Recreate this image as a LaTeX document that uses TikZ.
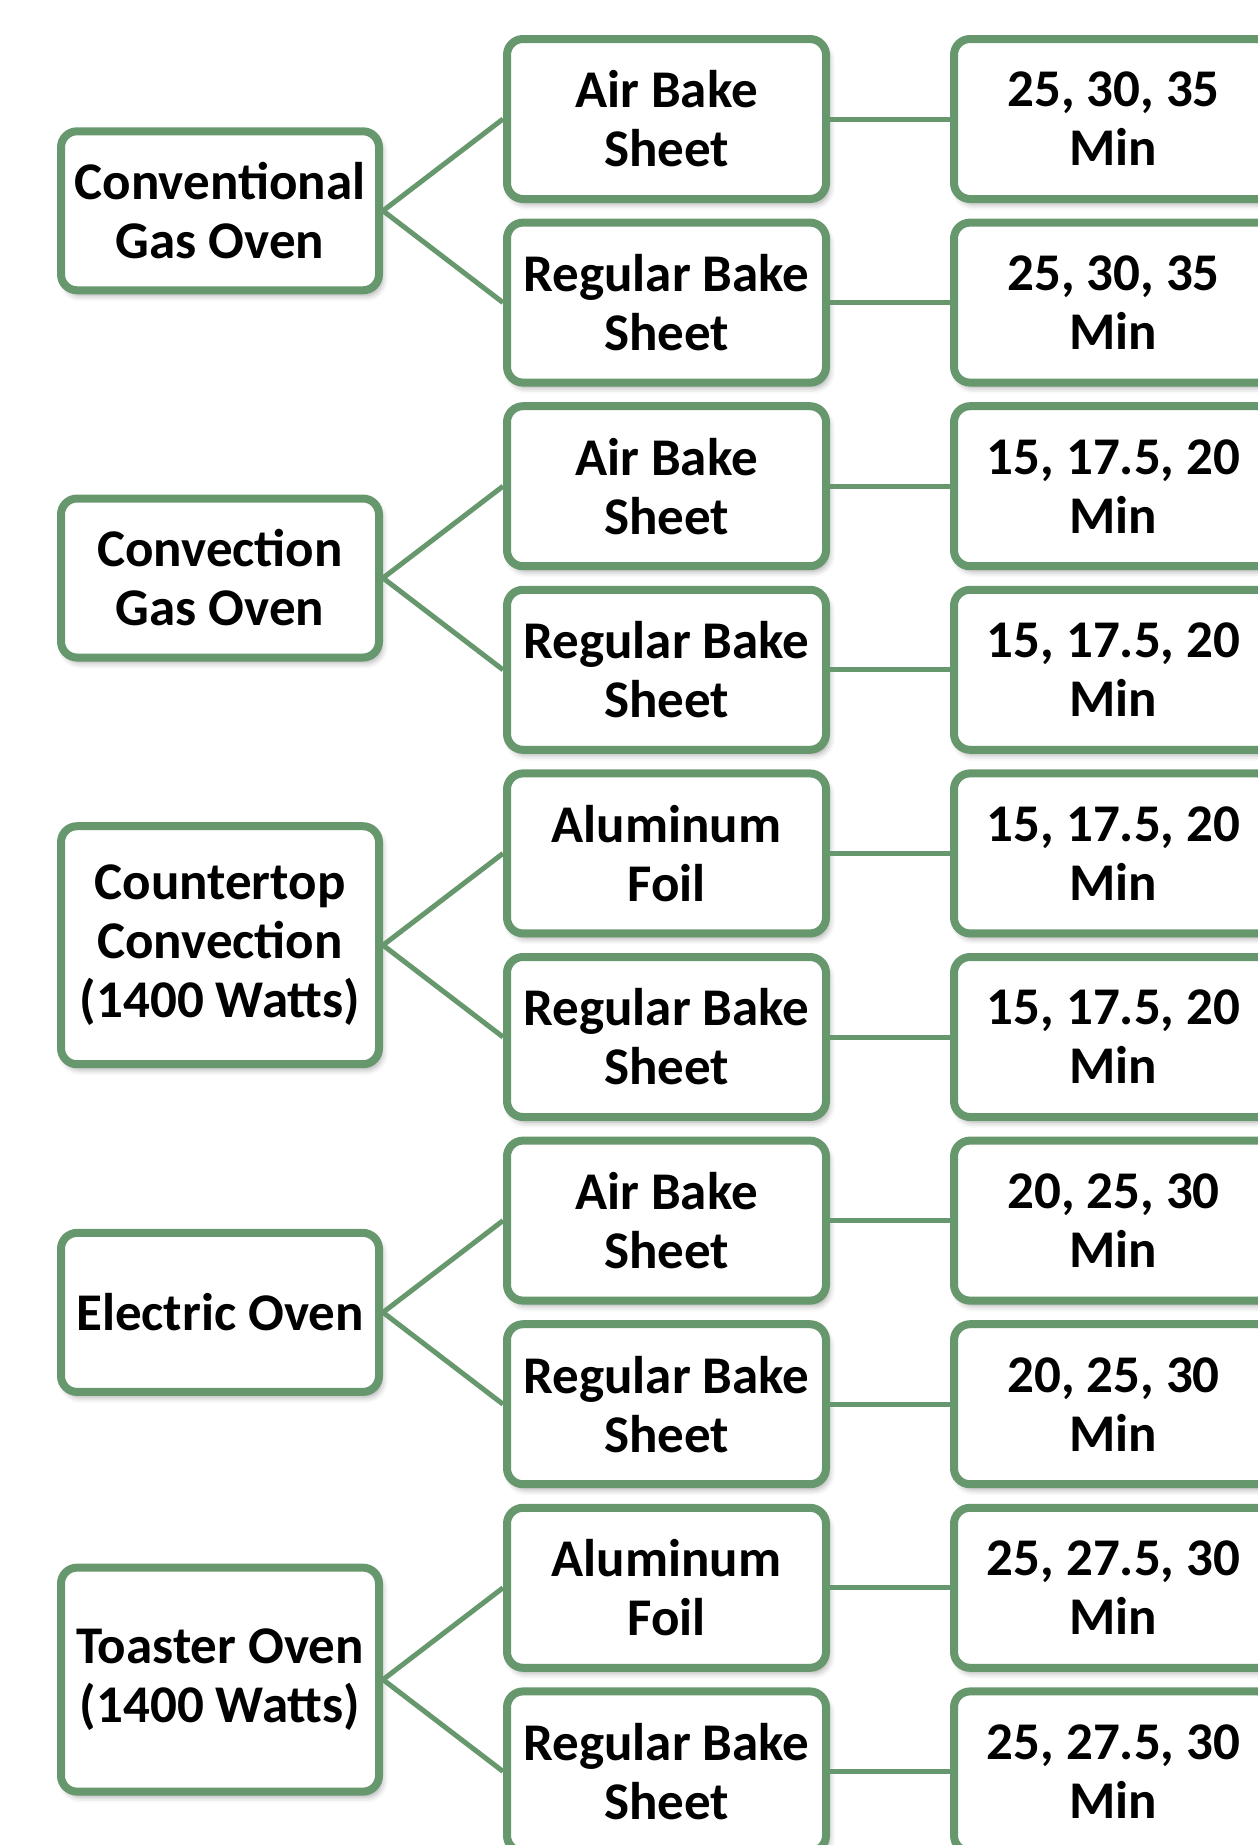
\documentclass[tikz,border=0pt]{standalone}
\usepackage{fontspec}
\setmainfont{Carlito}
\usetikzlibrary{shadows.blur}
\definecolor{boxgreen}{RGB}{103,151,109}
\begin{document}
\begin{tikzpicture}[x=1pt,y=-1pt,
  box/.style={draw=boxgreen, line width=8pt, rounded corners=16pt, fill=white,
    align=center, text=black, inner sep=0pt,
    font=\bfseries\fontsize{53}{59}\selectfont,
    blur shadow={shadow xshift=3pt, shadow yshift=-5pt, shadow blur radius=6pt, shadow opacity=35}},
  lbox/.style={box, minimum width=318pt},
  mbox/.style={box, minimum width=319pt, minimum height=160pt},
  link/.style={draw=boxgreen, line width=5pt}]
\useasboundingbox (0,0) rectangle (1258,1845);
% left column
\node[lbox, minimum height=159pt] (l1) at (220,210.8) {Conventional\\Gas Oven};
\node[lbox, minimum height=159pt] (l2) at (220,578) {Convection\\Gas Oven};
\node[lbox, minimum height=238pt] (l3) at (220,945.2) {Countertop\\Convection\\(1400 Watts)};
\node[lbox, minimum height=159pt] (l4) at (220,1312.4) {Electric Oven};
\node[lbox, minimum height=224pt] (l5) at (220,1679.6) {Toaster Oven\\(1400 Watts)};
% middle column
\node[mbox] (m1) at (666.5,119) {Air Bake\\Sheet};
\node[mbox] (m2) at (666.5,302.6) {Regular Bake\\Sheet};
\node[mbox] (m3) at (666.5,486.2) {Air Bake\\Sheet};
\node[mbox] (m4) at (666.5,669.8) {Regular Bake\\Sheet};
\node[mbox] (m5) at (666.5,853.4) {Aluminum\\Foil};
\node[mbox] (m6) at (666.5,1037) {Regular Bake\\Sheet};
\node[mbox] (m7) at (666.5,1220.6) {Air Bake\\Sheet};
\node[mbox] (m8) at (666.5,1404.2) {Regular Bake\\Sheet};
\node[mbox] (m9) at (666.5,1587.8) {Aluminum\\Foil};
\node[mbox] (m10) at (666.5,1771.4) {Regular Bake\\Sheet};
% right column
\node[mbox] (r1) at (1113.5,119) {25, 30, 35\\Min};
\node[mbox] (r2) at (1113.5,302.6) {25, 30, 35\\Min};
\node[mbox] (r3) at (1113.5,486.2) {15, 17.5, 20\\Min};
\node[mbox] (r4) at (1113.5,669.8) {15, 17.5, 20\\Min};
\node[mbox] (r5) at (1113.5,853.4) {15, 17.5, 20\\Min};
\node[mbox] (r6) at (1113.5,1037) {15, 17.5, 20\\Min};
\node[mbox] (r7) at (1113.5,1220.6) {20, 25, 30\\Min};
\node[mbox] (r8) at (1113.5,1404.2) {20, 25, 30\\Min};
\node[mbox] (r9) at (1113.5,1587.8) {25, 27.5, 30\\Min};
\node[mbox] (r10) at (1113.5,1771.4) {25, 27.5, 30\\Min};
% connectors
\draw[link] (l1.east) -- (m1.west);
\draw[link] (l1.east) -- (m2.west);
\draw[link] (l2.east) -- (m3.west);
\draw[link] (l2.east) -- (m4.west);
\draw[link] (l3.east) -- (m5.west);
\draw[link] (l3.east) -- (m6.west);
\draw[link] (l4.east) -- (m7.west);
\draw[link] (l4.east) -- (m8.west);
\draw[link] (l5.east) -- (m9.west);
\draw[link] (l5.east) -- (m10.west);
\foreach \i in {1,...,10} {\draw[link] (m\i.east) -- (r\i.west);}
\end{tikzpicture}
\end{document}
